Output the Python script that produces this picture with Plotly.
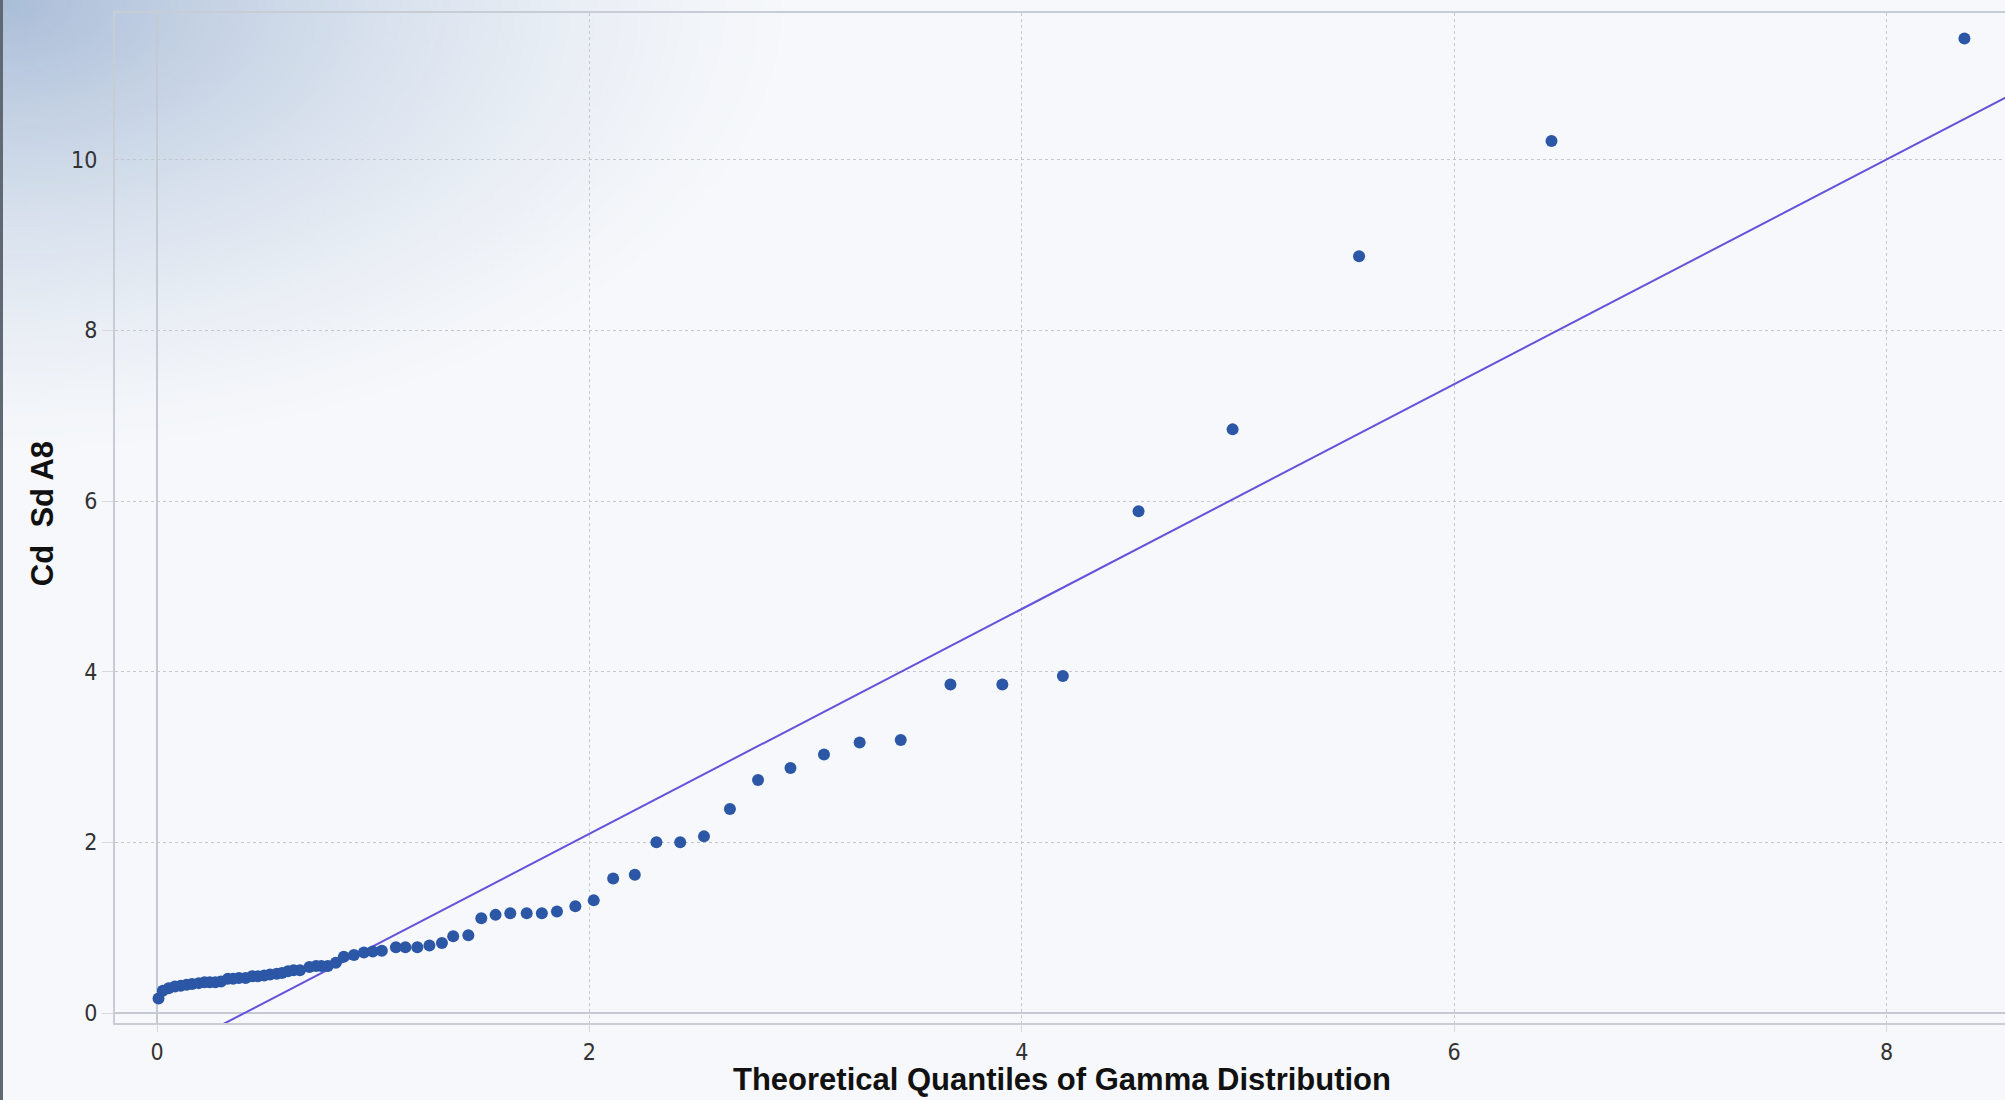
import base64
import struct
import zlib

import numpy as np
import plotly.graph_objects as go

# ---------------- data ----------------
theoretical_q = [
    0.007, 0.027, 0.054, 0.083, 0.110, 0.137, 0.162, 0.193, 0.220, 0.244,
    0.270, 0.296, 0.327, 0.352, 0.379, 0.410, 0.440, 0.467, 0.496, 0.523,
    0.554, 0.578, 0.606, 0.632, 0.661, 0.705, 0.736, 0.760, 0.790, 0.827,
    0.864, 0.911, 0.957, 0.998, 1.040, 1.105, 1.149, 1.204, 1.260, 1.318,
    1.370, 1.440, 1.500, 1.566, 1.634, 1.710, 1.780, 1.850, 1.935, 2.020,
    2.110, 2.210, 2.310, 2.420, 2.530, 2.650, 2.780, 2.930, 3.085, 3.250,
    3.440, 3.670, 3.910, 4.190, 4.540, 4.975, 5.560, 6.450, 8.360,
]
sample_q = [
    0.17, 0.26, 0.29, 0.31, 0.32, 0.33, 0.34, 0.35, 0.36, 0.36,
    0.36, 0.37, 0.40, 0.40, 0.41, 0.41, 0.43, 0.43, 0.44, 0.45,
    0.46, 0.47, 0.49, 0.50, 0.50, 0.54, 0.55, 0.55, 0.55, 0.59,
    0.66, 0.68, 0.71, 0.72, 0.73, 0.77, 0.77, 0.77, 0.79, 0.82,
    0.90, 0.91, 1.11, 1.15, 1.17, 1.17, 1.17, 1.19, 1.25, 1.32,
    1.575, 1.62, 2.00, 2.00, 2.07, 2.39, 2.73, 2.87, 3.03, 3.17,
    3.20, 3.85, 3.85, 3.95, 5.88, 6.84, 8.87, 10.22, 11.42,
]
fit_slope = 1.317
fit_intercept = -0.533
fit_x = [0.0, 8.7]
fit_y = [fit_intercept + fit_slope * v for v in fit_x]

x_ticks = [0, 2, 4, 6, 8]
y_ticks = [0, 2, 4, 6, 8, 10]
x_title = "Theoretical Quantiles of Gamma Distribution"
y_title = "Cd  Sd A8"

# ---------------- geometry (body margin removed by post_script) ----------------
W, H = 2005, 1100
PL, PR, PT, PB = 115, 2005, 13, 1022.7
PW, PH = PR - PL, PB - PT


def px_to_paper_x(px):
    return (px - PL) / PW


def px_to_paper_y(py):
    return (PB - py) / PH


# ---------------- corner gradient as a PNG ----------------
def make_png(rgba):
    h, w, _ = rgba.shape
    raw = b"".join(b"\x00" + rgba[i].tobytes() for i in range(h))

    def chunk(tag, data):
        c = struct.pack(">I", len(data)) + tag + data
        return c + struct.pack(">I", zlib.crc32(tag + data) & 0xFFFFFFFF)

    png = b"\x89PNG\r\n\x1a\n"
    png += chunk(b"IHDR", struct.pack(">IIBBBBB", w, h, 8, 6, 0, 0, 0))
    png += chunk(b"IDAT", zlib.compress(raw, 9))
    png += chunk(b"IEND", b"")
    return "data:image/png;base64," + base64.b64encode(png).decode()


GW, GH = 820, 470
gw, gh = 205, 118
yy, xx = np.mgrid[0:gh, 0:gw]
d = np.sqrt((xx / gw) ** 2 + (yy / gh) ** 2)
alpha = np.clip(1 - d, 0, 1) ** 1.5 * 0.8
img = np.zeros((gh, gw, 4), dtype=np.uint8)
img[..., 0] = 150
img[..., 1] = 174
img[..., 2] = 206
img[..., 3] = (alpha * 255).astype(np.uint8)
grad_uri = make_png(img)

# ---------------- figure ----------------
fig = go.Figure()
fig.add_trace(go.Scatter(
    x=fit_x, y=fit_y, mode="lines",
    line=dict(color="#6352dc", width=2),
    hoverinfo="skip", showlegend=False,
))
fig.add_trace(go.Scatter(
    x=theoretical_q, y=sample_q, mode="markers",
    marker=dict(color="#2b57a6", size=12, line=dict(width=0)),
    showlegend=False,
))

tick_font = dict(family="Liberation Sans Narrow, DejaVu Sans Condensed, Arial Narrow, sans-serif",
                 size=23, color="#333333")
title_font = dict(family="Liberation Sans, Arial, sans-serif", size=31, color="#111111")

x_lo = (115 - 157) / 216.2
x_hi = (2005 - 157) / 216.2
y_lo = (1012.7 - 1022.7) / 85.3
y_hi = (1012.7 - 13) / 85.3

fig.update_xaxes(
    range=[x_lo, x_hi], tickvals=x_ticks, ticktext=[str(v) for v in x_ticks],
    showgrid=True, gridcolor="#c3c8d0", gridwidth=1, griddash="dot",
    zeroline=True, zerolinecolor="#c5cad2", zerolinewidth=1.5,
    showline=True, linecolor="#c8cdd5", linewidth=2, mirror=True,
    ticks="outside", ticklen=7, tickcolor="#d6dae0", tickwidth=1,
    tickfont=tick_font,
)
fig.update_yaxes(
    range=[y_lo, y_hi], tickvals=y_ticks, ticktext=[str(v) for v in y_ticks],
    showgrid=True, gridcolor="#c3c8d0", gridwidth=1, griddash="dot",
    zeroline=True, zerolinecolor="#c5cad2", zerolinewidth=1.5,
    showline=True, linecolor="#c8cdd5", linewidth=2,
    ticks="outside", ticklen=11, tickcolor="#d6dae0", tickwidth=1,
    tickfont=tick_font,
)

fig.update_layout(
    width=W, height=H,
    margin=dict(l=PL, r=W - PR, t=PT, b=H - PB, pad=0),
    paper_bgcolor="#f6f8fb",
    plot_bgcolor="rgba(0,0,0,0)",
    images=[dict(
        source=grad_uri, xref="paper", yref="paper",
        x=px_to_paper_x(0), y=px_to_paper_y(0),
        sizex=GW / PW, sizey=GH / PH,
        xanchor="left", yanchor="top", sizing="stretch", layer="below",
    )],
    shapes=[dict(
        type="rect", xref="paper", yref="paper",
        x0=px_to_paper_x(0), x1=px_to_paper_x(3),
        y0=px_to_paper_y(H), y1=px_to_paper_y(0),
        fillcolor="#5f6873", line=dict(width=0), layer="above",
    )],
    annotations=[
        dict(text="<b>%s</b>" % x_title, xref="paper", yref="paper",
             x=px_to_paper_x(1062), y=px_to_paper_y(1079),
             xanchor="center", yanchor="middle", showarrow=False, font=title_font),
        dict(text="<b>%s</b>" % y_title, xref="paper", yref="paper",
             x=px_to_paper_x(42), y=px_to_paper_y(514), textangle=-90,
             xanchor="center", yanchor="middle", showarrow=False, font=title_font),
    ],
)

fig.write_html(
    "out.html",
    config={"displayModeBar": False},
    post_script="document.body.style.margin='0';document.body.style.overflow='hidden';",
)
